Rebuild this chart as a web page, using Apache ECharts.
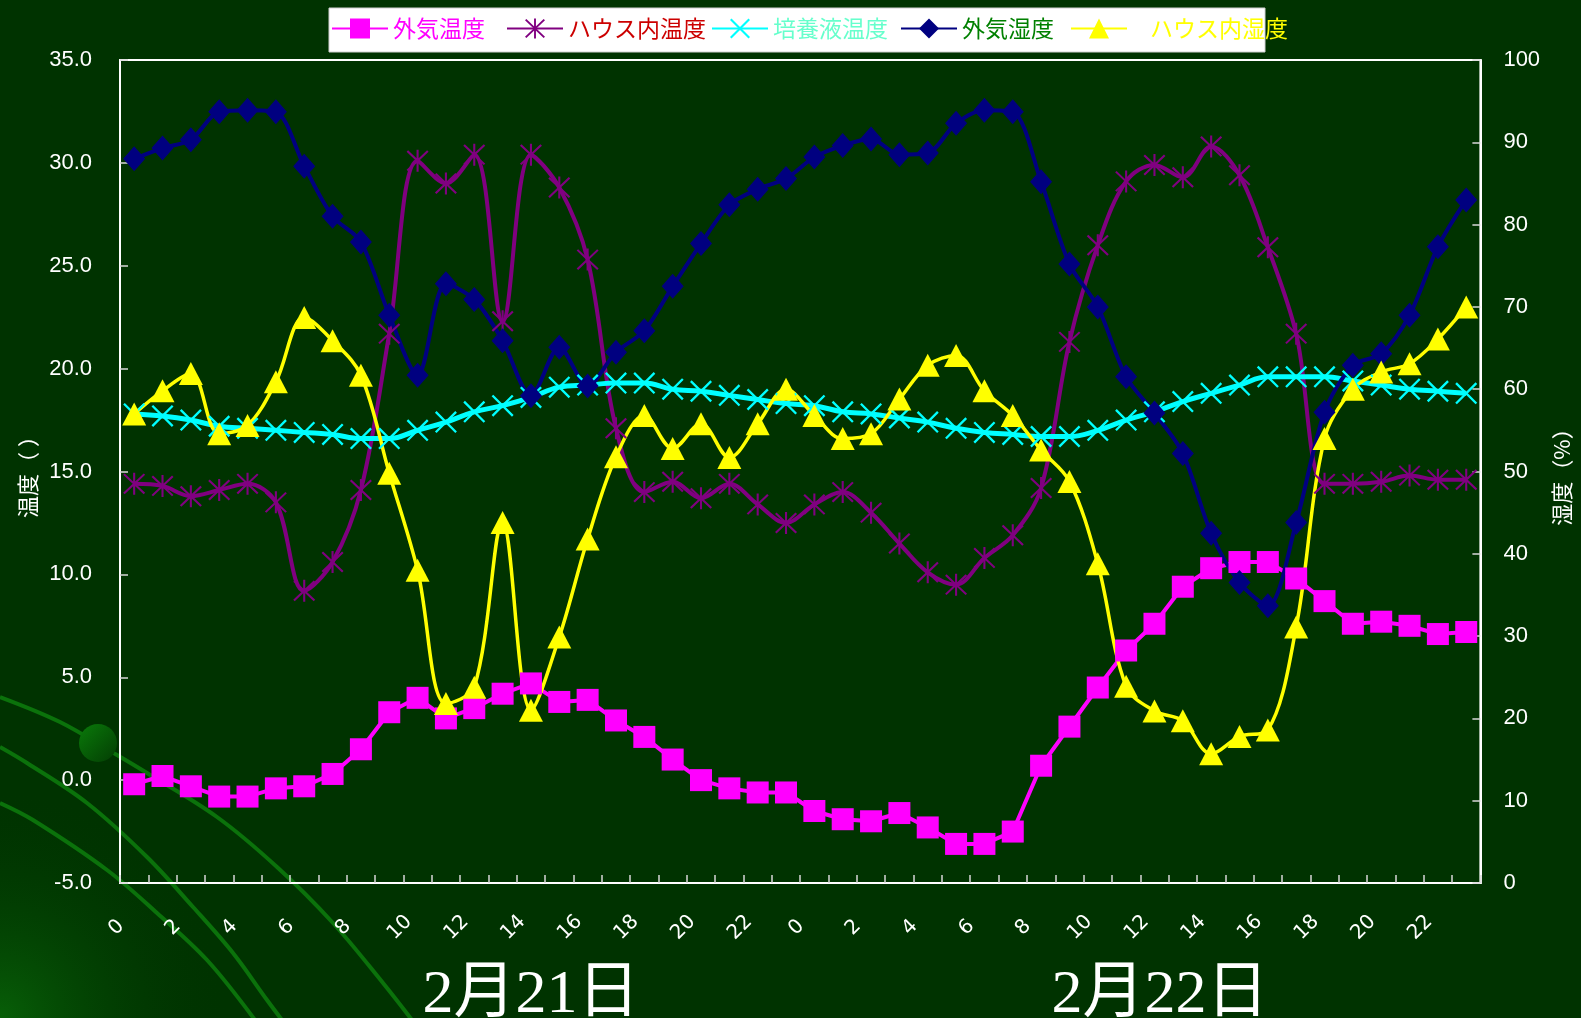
<!DOCTYPE html>
<html>
<head>
<meta charset="utf-8">
<script src="https://cdn.jsdelivr.net/npm/echarts@6/dist/echarts.min.js"></script>
<style>
html,body{margin:0;padding:0;background:#003300;}
#main{width:1581px;height:1018px;}
</style>
</head>
<body>
<div id="main"></div>
<script>
// ---- data ----
var hours = ['0','1','2','3','4','5','6','7','8','9','10','11','12','13','14','15','16','17','18','19','20','21','22','23',
             '0','1','2','3','4','5','6','7','8','9','10','11','12','13','14','15','16','17','18','19','20','21','22','23'];
var dayLabels = ['2月21日', '2月22日'];
var tempTicks = {min: -5, max: 35, interval: 5};
var humTicks = {min: 0, max: 100, interval: 10};

var outsideTemp = [-0.2,0.2,-0.3,-0.8,-0.8,-0.4,-0.3,0.3,1.5,3.3,4.0,3.0,3.5,4.2,4.7,3.8,3.9,2.9,2.1,1.0,0.0,-0.4,-0.6,-0.6,
                   -1.5,-1.9,-2.0,-1.6,-2.3,-3.1,-3.1,-2.5,0.7,2.6,4.5,6.3,7.6,9.4,10.3,10.6,10.6,9.8,8.7,7.6,7.7,7.5,7.1,7.2];
var houseTemp = [14.4,14.3,13.8,14.1,14.4,13.5,9.2,10.6,14.1,21.7,30.1,29.0,30.4,22.3,30.4,28.8,25.3,17.1,14.0,14.5,13.7,14.4,13.4,12.5,
                 13.4,14.0,13.0,11.5,10.1,9.5,10.8,11.9,14.2,21.3,26.0,29.1,29.9,29.3,30.8,29.4,25.9,21.7,14.4,14.4,14.5,14.8,14.6,14.6];
var solutionTemp = [17.8,17.7,17.5,17.2,17.1,17.0,16.9,16.8,16.6,16.6,17.0,17.4,17.9,18.2,18.6,19.1,19.2,19.3,19.3,19.0,18.9,18.7,18.5,18.3,
                    18.2,17.9,17.8,17.6,17.4,17.1,16.9,16.8,16.7,16.7,17.0,17.5,17.9,18.4,18.8,19.2,19.6,19.6,19.6,19.4,19.2,19.0,18.9,18.8];
var outsideHum = [88.0,89.3,90.3,93.7,93.9,93.7,87.1,81.0,77.9,69.0,61.7,72.8,70.9,65.9,59.2,65.1,60.4,64.5,67.1,72.5,77.7,82.4,84.3,85.6,
                  88.2,89.6,90.4,88.5,88.7,92.3,93.9,93.7,85.2,75.2,70.0,61.5,57.1,52.2,42.5,36.5,33.7,43.8,57.2,62.9,64.3,69.0,77.3,83.0];
var houseHum = [57.0,59.8,61.9,54.6,55.6,60.9,68.7,65.9,61.7,49.8,38.0,21.8,23.8,43.8,21.0,29.9,41.8,51.8,56.8,52.8,55.8,51.7,55.8,60.0,
                56.8,54.0,54.6,58.8,62.9,64.1,59.8,56.8,52.6,48.8,38.8,23.9,20.9,19.7,15.7,17.8,18.6,31.1,54.0,60.0,62.1,63.1,66.1,70.0];

var names = ['外気温度','ハウス内温度','培養液温度','外気湿度','ハウス内湿度'];
var legendTextColors = ['#ff00ff','#cc0000','#66ffcc','#008000','#ffff00'];

// ---- styling ----
var CJK = "'Noto Sans CJK JP','Noto Sans CJK SC',sans-serif";
var ASTERISK = 'path://M9.1,0 H10.9 V20 H9.1 Z M0.5,1.8 L1.8,0.5 L19.5,18.2 L18.2,19.5 Z M18.2,0.5 L19.5,1.8 L1.8,19.5 L0.5,18.2 Z';
var XMARK = 'path://M0,1.5 L1.5,0 L20,18.5 L18.5,20 Z M18.5,0 L20,1.5 L1.5,20 L0,18.5 Z';

var chart = echarts.init(document.getElementById('main'), null, {renderer: 'canvas'});

function legendFor(i, left, extra) {
  return Object.assign({
    left: left, top: 17, padding: 0, itemGap: 0,
    itemWidth: 56, itemHeight: 25,
    selectedMode: false,
    data: [{name: names[i], textStyle: {color: legendTextColors[i]}}],
    textStyle: {fontSize: 23, fontFamily: CJK}
  }, extra || {});
}

var decoCurves = [
  [[0,697],[60,722],[117,755],[147,773],[217,817],[277,867],[333,923],[383,983],[412,1020]],
  [[0,747],[27,763],[87,803],[147,857],[193,907],[233,953],[267,1000],[282,1020]],
  [[0,803],[33,820],[107,870],[157,913],[207,960],[255,1020]]
];

var graphics = [
  {type:'circle', z:0, silent:true, shape:{cx:0, cy:1018, r:230},
   style:{fill:{type:'radial', x:0.5, y:0.5, r:0.5, colorStops:[{offset:0,color:'rgba(10,110,10,0.75)'},{offset:1,color:'rgba(0,51,0,0)'}]}}}
];
decoCurves.forEach(function(pts){
  graphics.push({type:'polyline', z:0, silent:true, shape:{points:pts, smooth:0.35},
    style:{stroke:'#0b720b', lineWidth:4, fill:null}});
});
graphics.push({type:'circle', z:0, silent:true, shape:{cx:98, cy:743, r:19},
  style:{fill:{type:'linear', x:0, y:0, x2:1, y2:1, colorStops:[{offset:0,color:'#0a7a0a'},{offset:1,color:'#033d03'}]}}});
graphics.push({type:'rect', z:1, silent:true, shape:{x:329, y:8, width:936, height:44},
  style:{fill:'#ffffff', stroke:'#d0d0d0', lineWidth:1}});
graphics.push({type:'text', z:5, silent:true, x:531, y:996,
  style:{text:dayLabels[0], fill:'#ffffff', font:"62px 'Liberation Serif','Noto Sans CJK JP',serif", align:'center', verticalAlign:'middle'}});
graphics.push({type:'text', z:5, silent:true, x:1160, y:996,
  style:{text:dayLabels[1], fill:'#ffffff', font:"62px 'Liberation Serif','Noto Sans CJK JP',serif", align:'center', verticalAlign:'middle'}});

var option = {
  animation: false,
  backgroundColor: '#003300',
  graphic: graphics,
  legend: [
    legendFor(0, 331),
    legendFor(1, 506),
    legendFor(2, 711),
    legendFor(3, 900),
    legendFor(4, 1070, {textStyle:{fontSize:23, fontFamily:CJK, padding:[0,0,0,18]}})
  ],
  grid: {left:120, right:99, top:60, bottom:135, show:true, borderColor:'#ffffff', borderWidth:2, backgroundColor:'transparent'},
  xAxis: {
    type:'category', data: hours, boundaryGap:true,
    axisLine:{onZero:false, lineStyle:{color:'#ffffff', width:2}},
    axisTick:{show:true, inside:true, length:8, interval:0, lineStyle:{color:'#d8d8d8', width:1.5}},
    axisLabel:{interval:1, rotate:45, margin:27, align:'center', verticalAlign:'middle', padding:[0,50,0,0],
      color:'#ffffff', fontSize:20, fontFamily:"'DejaVu Sans',sans-serif"},
    splitLine:{show:false}
  },
  yAxis: [
    {type:'value', min:tempTicks.min, max:tempTicks.max, interval:tempTicks.interval, position:'left',
     name:'温度（ ）', nameLocation:'middle', nameGap:80, nameRotate:90,
     nameTextStyle:{color:'#ffffff', fontSize:22, fontFamily:CJK},
     axisLine:{show:true, onZero:false, lineStyle:{color:'#ffffff', width:2}},
     axisTick:{show:true, inside:true, length:8, lineStyle:{color:'#d8d8d8', width:1.5}},
     axisLabel:{margin:28, color:'#ffffff', fontSize:22, fontFamily:"'Liberation Sans',Arial,sans-serif",
       formatter:function(v){return v.toFixed(1);}},
     splitLine:{show:false}},
    {type:'value', min:humTicks.min, max:humTicks.max, interval:humTicks.interval, position:'right',
     name:'湿度（%）', nameLocation:'middle', nameGap:70, nameRotate:90,
     nameTextStyle:{color:'#ffffff', fontSize:22, fontFamily:CJK},
     axisLine:{show:true, onZero:false, lineStyle:{color:'#ffffff', width:2}},
     axisTick:{show:true, inside:true, length:8, lineStyle:{color:'#d8d8d8', width:1.5}},
     axisLabel:{margin:23, color:'#ffffff', fontSize:22, fontFamily:"'Liberation Sans',Arial,sans-serif"},
     splitLine:{show:false}}
  ],
  series: [
    {name:names[0], type:'line', yAxisIndex:0, data:outsideTemp, smooth:false,
     showSymbol:true, showAllSymbol:true, symbol:'rect', symbolSize:22,
     itemStyle:{color:'#ff00ff'}, lineStyle:{color:'#ff00ff', width:4}},
    {name:names[1], type:'line', yAxisIndex:0, data:houseTemp, smooth:0.35,
     showSymbol:true, showAllSymbol:true, symbol:ASTERISK, symbolSize:22,
     itemStyle:{color:'#800080'}, lineStyle:{color:'#800080', width:4}},
    {name:names[2], type:'line', yAxisIndex:0, data:solutionTemp, smooth:0.4,
     showSymbol:true, showAllSymbol:true, symbol:XMARK, symbolSize:22,
     itemStyle:{color:'#00ffff'}, lineStyle:{color:'#00ffff', width:5}},
    {name:names[3], type:'line', yAxisIndex:1, data:outsideHum, smooth:0.3,
     showSymbol:true, showAllSymbol:true, symbol:'diamond', symbolSize:[22,25],
     itemStyle:{color:'#000080'}, lineStyle:{color:'#000080', width:4}},
    {name:names[4], type:'line', yAxisIndex:1, data:houseHum, smooth:0.35,
     showSymbol:true, showAllSymbol:true, symbol:'triangle', symbolSize:[24,23],
     itemStyle:{color:'#ffff00'}, lineStyle:{color:'#ffff00', width:3.5}}
  ]
};
chart.setOption(option);
</script>
</body>
</html>
